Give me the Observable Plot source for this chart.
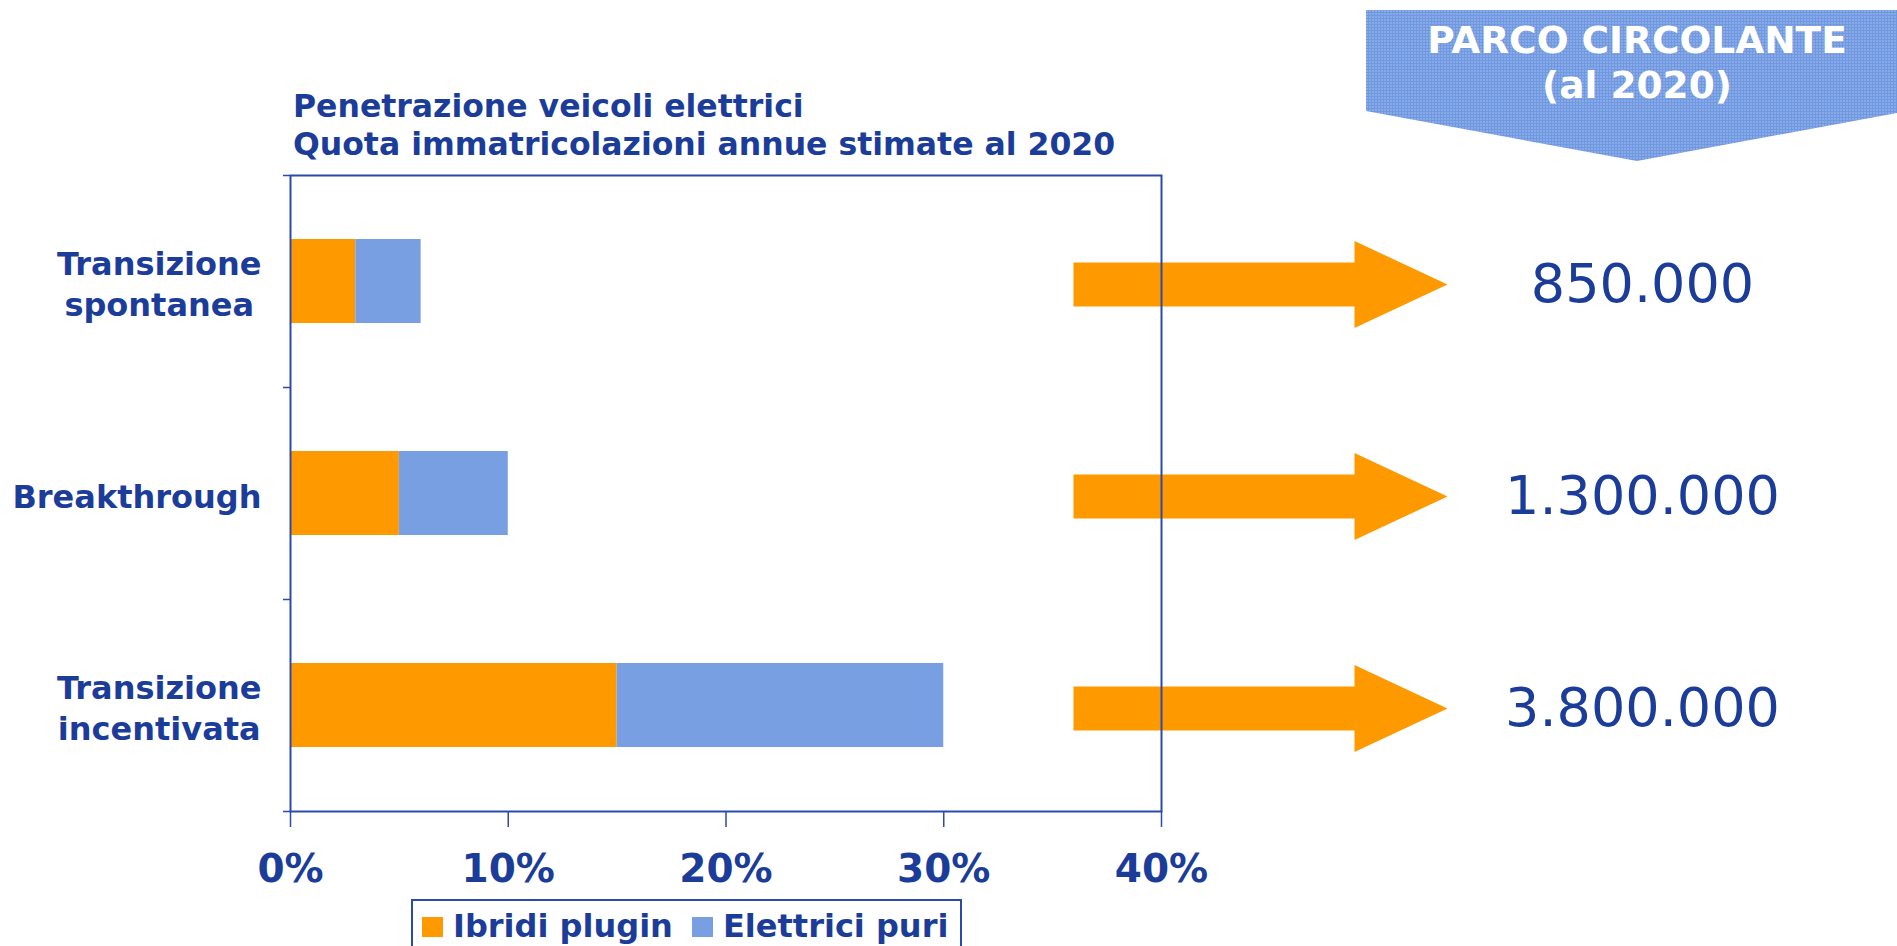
<!DOCTYPE html>
<html>
<head>
<meta charset="utf-8">
<script src="https://cdn.jsdelivr.net/npm/d3@7"></script>
<script src="https://cdn.jsdelivr.net/npm/@observablehq/plot@0.6"></script>
<style>
  html, body { margin: 0; padding: 0; background: #fff; }
  #wrap { position: relative; width: 1897px; height: 946px; overflow: hidden; font-family: "DejaVu Sans", Verdana, sans-serif; color: #1B3D99; }
  #chart { position: absolute; left: 0; top: 0; }
  #overlay { position: absolute; left: 0; top: 0; }
</style>
</head>
<body>
<div id="wrap">
  <div id="chart"></div>
  <svg id="overlay" width="1897" height="946"></svg>
</div>
<script>
// ---- data ----
const categories = ["Transizione spontanea", "Breakthrough", "Transizione incentivata"];
const categoryLines = [["Transizione", "spontanea"], ["Breakthrough"], ["Transizione", "incentivata"]];
const ibridiPlugin = [3, 5, 15];
const elettriciPuri = [3, 5, 15];
const series = ["Ibridi plugin", "Elettrici puri"];
const seriesColors = ["#FF9900", "#789FE2"];
const xTicks = [0, 10, 20, 30, 40];
const parcoCircolante = ["850.000", "1.300.000", "3.800.000"];
const titleLines = ["Penetrazione veicoli elettrici", "Quota immatricolazioni annue stimate al 2020"];
const bannerLines = ["PARCO CIRCOLANTE", "(al 2020)"];

const navy = "#1B3D99";
const frameBlue = "#2A4BAA";
const font = "'DejaVu Sans', Verdana, sans-serif";

const rows = categories.flatMap((c, i) => [
  {cat: c, serie: series[0], v: ibridiPlugin[i]},
  {cat: c, serie: series[1], v: elettriciPuri[i]}
]);

// arrow shape as a custom dot symbol (origin = left end of the shaft)
const arrowSymbol = {
  draw(ctx) {
    ctx.moveTo(0, -22);
    ctx.lineTo(281, -22);
    ctx.lineTo(281, -43.5);
    ctx.lineTo(374, 0);
    ctx.lineTo(281, 43.5);
    ctx.lineTo(281, 22);
    ctx.lineTo(0, 22);
    ctx.closePath();
  }
};

// measure label widths for centered multi-line labels, right-aligned as a block
const cvs = document.createElement("canvas").getContext("2d");
cvs.font = "bold 32px 'DejaVu Sans'";
const labelMarks = categories.map((c, i) => {
  const w = Math.max(...categoryLines[i].map(s => cvs.measureText(s).width));
  return Plot.text([c], {
    y: d => d,
    text: () => categoryLines[i].join("\n"),
    frameAnchor: "left",
    dx: -29 - w / 2,
    dy: 1,
    textAnchor: "middle",
    lineHeight: 1.28,
    fontSize: 32,
    fontWeight: "bold",
    fill: navy
  });
});

const chart = Plot.plot({
  width: 1897,
  height: 946,
  marginLeft: 290,
  marginRight: 736,
  marginTop: 175,
  marginBottom: 135,
  style: {background: "transparent", fontFamily: font, color: navy},
  x: {domain: [0, 40], label: null},
  y: {domain: categories, padding: 0, label: null},
  color: {domain: series, range: seriesColors},
  marks: [
    Plot.dot(categories, {y: d => d, frameAnchor: "right", dx: -88, dy: 3, r: 10, symbol: arrowSymbol, fill: "#FF9900", stroke: "none"}),
    Plot.barX(rows, Plot.stackX({x: "v", y: "cat", fill: "serie", order: series, insetTop: 64, insetBottom: 64})),
    Plot.frame({stroke: frameBlue, strokeWidth: 2}),
    Plot.axisY({tickSize: 7, tickFormat: () => "", dy: -106, stroke: frameBlue, strokeWidth: 1.5}),
    Plot.axisY([categories[2]], {tickSize: 7, tickFormat: () => "", dy: 106, stroke: frameBlue, strokeWidth: 1.5}),
    Plot.axisX(xTicks, {
      tickSize: 16, tickPadding: 27, tickFormat: d => d + "%",
      stroke: frameBlue, strokeWidth: 1.5,
      fontSize: 39, fontWeight: "bold", fill: navy
    }),
    ...labelMarks,
    Plot.text(parcoCircolante, {y: (d, i) => categories[i], frameAnchor: "right", dx: 481, dy: 3, fontSize: 54, fill: navy, textAnchor: "middle"})
  ]
});
document.getElementById("chart").appendChild(chart);

const svg = d3.select("#overlay").attr("font-family", font);

// title
svg.selectAll("text.t").data(titleLines).join("text")
  .attr("class", "t")
  .attr("x", 293).attr("y", (d, i) => 117 + i * 38)
  .attr("fill", navy).attr("font-weight", "bold").attr("font-size", 31.5)
  .text(d => d);

// banner (decorative header shape)
const defs = svg.append("defs");
const pat = defs.append("pattern").attr("id", "dither").attr("width", 3).attr("height", 3).attr("patternUnits", "userSpaceOnUse");
pat.append("rect").attr("width", 3).attr("height", 3).attr("fill", "#88AAE8");
pat.append("rect").attr("width", 3).attr("height", 1).attr("fill", "#7098DE");
pat.append("rect").attr("width", 1).attr("height", 3).attr("fill", "#7098DE");
svg.append("path")
  .attr("d", "M1366,10 L1897,10 L1897,113 L1637,161 L1366,111 Z")
  .attr("fill", "url(#dither)");
svg.selectAll("text.b").data(bannerLines).join("text")
  .attr("class", "b")
  .attr("x", 1637).attr("y", (d, i) => 53 + i * 45)
  .attr("text-anchor", "middle").attr("fill", "#fff")
  .attr("font-weight", "bold").attr("font-size", 37.5)
  .text(d => d);

// legend
const lg = svg.append("g");
lg.append("rect").attr("x", 412).attr("y", 900).attr("width", 549).attr("height", 80)
  .attr("fill", "none").attr("stroke", frameBlue).attr("stroke-width", 2);
const swX = [422, 692], txX = [453, 723];
series.forEach((s, i) => {
  lg.append("rect").attr("x", swX[i]).attr("y", 917).attr("width", 21).attr("height", 20).attr("fill", seriesColors[i]);
  lg.append("text").attr("x", txX[i]).attr("y", 937).attr("fill", navy)
    .attr("font-weight", "bold").attr("font-size", 32).text(s);
});
</script>
</body>
</html>
